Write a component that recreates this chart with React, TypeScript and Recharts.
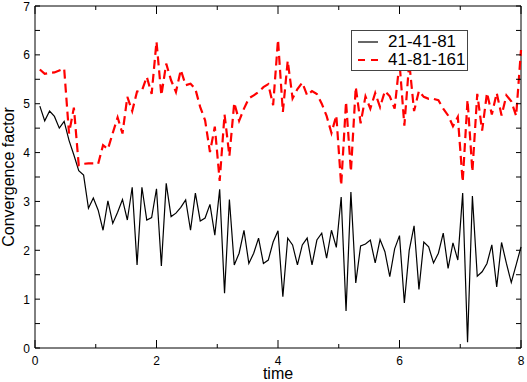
import React from 'react';
import { LineChart, Line, XAxis, YAxis, Legend, ReferenceArea } from 'recharts';

// sample spacing along the time axis
const TIME_STEP = 0.08;

const coarseValues = [
  4.95, 4.65, 4.85, 4.74, 4.5, 4.64, 4.25, 3.95, 3.63, 3.54,
  2.86, 3.07, 2.82, 2.41, 3.01, 2.55, 2.78, 3.04, 2.62, 3.29,
  1.7, 3.29, 2.62, 2.67, 3.26, 1.68, 3.37, 2.69, 2.76, 2.88,
  3.03, 2.41, 3.17, 2.6, 2.66, 2.94, 2.31, 3.25, 1.12, 3.04,
  1.7, 1.94, 2.41, 1.73, 1.94, 2.25, 1.73, 1.8, 2.17, 2.4,
  1.05, 2.25, 2.11, 1.7, 2.11, 2.25, 1.7, 2.21, 2.35, 1.84,
  2.41, 2.06, 3.09, 0.76, 3.19, 1.33, 2.09, 2.13, 2.21, 1.74,
  2.22, 1.97, 1.46, 2.03, 2.3, 0.92, 2.0, 2.5, 1.2, 2.17,
  2.07, 1.74, 1.94, 2.35, 1.63, 2.15, 1.8, 3.17, 0.12, 3.11,
  1.47, 1.56, 1.73, 2.11, 1.25, 2.16, 1.73, 1.34, 1.7, 2.07,
];

const fineValues = [
  5.7, 5.61, 5.63, 5.64, 5.68, 5.72, 4.39, 4.92, 3.74, 3.77,
  3.78, 3.78, 3.77, 4.15, 4.07, 4.4, 4.72, 4.39, 5.14, 4.85,
  5.25, 5.27, 5.55, 5.2, 6.27, 5.17, 5.82, 5.48, 5.24, 5.69,
  5.38, 5.41, 5.3, 4.93, 4.66, 4.01, 4.53, 3.42, 4.78, 3.93,
  5.02, 4.65, 4.9, 5.11, 5.17, 5.24, 5.34, 5.4, 4.97, 6.31,
  4.83, 5.88, 5.11, 5.3, 5.43, 5.17, 5.26, 5.2, 5.0, 4.75,
  4.4, 4.76, 3.33, 5.04, 3.61, 5.34, 4.6, 5.15, 4.9, 5.22,
  4.93, 5.26, 5.15, 4.9, 5.85, 4.55, 5.85, 4.85, 5.26, 5.14,
  5.1, 5.1, 5.07, 4.9, 4.76, 4.54, 4.73, 3.4, 5.08, 3.61,
  5.2, 4.45, 5.22, 4.78, 5.22, 4.76, 5.17, 5.05, 4.75, 6.1,
];

const xTicks = [0, 1, 2, 3, 4, 5, 6, 7, 8];
const yTicks = [0, 0.5, 1, 1.5, 2, 2.5, 3, 3.5, 4, 4.5, 5, 5.5, 6, 6.5, 7];

const FONT = '"Liberation Sans", Arial, Helvetica, sans-serif';
const INK = '#000000';

// layout
const WIDTH = 527;
const HEIGHT = 382;
const MARGIN = { top: 6, right: 6, bottom: 0, left: 0 };
const Y_AXIS_W = 35;
const X_AXIS_H = 34;
const PLOT_LEFT = MARGIN.left + Y_AXIS_W;
const PLOT_TOP = MARGIN.top;
const PLOT_W = WIDTH - MARGIN.left - MARGIN.right - Y_AXIS_W;
const PLOT_H = HEIGHT - MARGIN.top - MARGIN.bottom - X_AXIS_H;
const PLOT_BOTTOM = PLOT_TOP + PLOT_H;
const PLOT_RIGHT = PLOT_LEFT + PLOT_W;

const data = coarseValues.map((v, i) => ({
  time: Number(((i + 1) * TIME_STEP).toFixed(2)),
  coarse: v,
  fine: fineValues[i],
}));

// inward ticks on bottom and top edges, label under the bottom one
const BottomTick = (props: any) => {
  const { x, payload } = props;
  const major = payload.value % 2 === 0;
  const len = major ? 8 : 4;
  return (
    <g>
      <rect x={x - 0.5} y={PLOT_BOTTOM - len} width={1} height={len} fill={INK} />
      <rect x={x - 0.5} y={PLOT_TOP} width={1} height={len} fill={INK} />
      {major && (
        <text x={x} y={PLOT_BOTTOM + 17} textAnchor="middle" fontSize={12} fontFamily={FONT} fill={INK}>
          {payload.value}
        </text>
      )}
    </g>
  );
};

// inward ticks on left and right edges, label left of the axis
const LeftTick = (props: any) => {
  const { y, payload } = props;
  const major = Number.isInteger(payload.value);
  return (
    <g>
      <rect x={PLOT_LEFT} y={y - 0.5} width={5} height={1} fill={INK} />
      <rect x={PLOT_RIGHT - 5} y={y - 0.5} width={5} height={1} fill={INK} />
      {major && (
        <text x={PLOT_LEFT - 5} y={y + 4.5} textAnchor="end" fontSize={12} fontFamily={FONT} fill={INK}>
          {payload.value}
        </text>
      )}
    </g>
  );
};

const XTitle = ({ viewBox }: any) => (
  <text
    x={viewBox.x + viewBox.width / 2}
    y={HEIGHT - 3}
    textAnchor="middle"
    fontSize={16}
    fontFamily={FONT}
    fill={INK}
  >
    time
  </text>
);

const YTitle = ({ viewBox }: any) => {
  const cx = 14;
  const cy = viewBox.y + viewBox.height / 2;
  return (
    <text
      x={cx}
      y={cy}
      transform={`rotate(-90 ${cx} ${cy})`}
      textAnchor="middle"
      fontSize={16}
      fontFamily={FONT}
      fill={INK}
    >
      Convergence factor
    </text>
  );
};

const LegendBox = ({ payload }: any) => (
  <div
    style={{
      border: '1px solid #444',
      background: '#fff',
      width: 115,
      height: 37,
      paddingTop: 2,
      boxSizing: 'content-box',
      fontFamily: FONT,
      fontSize: 17,
      lineHeight: '18px',
    }}
  >
    {(payload || []).map((entry: any) => (
      <div key={entry.value} style={{ display: 'flex', alignItems: 'center', height: 18 }}>
        <svg width={34} height={10} style={{ marginLeft: 2 }}>
          <line
            x1={4}
            x2={24}
            y1={5}
            y2={5}
            stroke={entry.color}
            strokeWidth={entry.payload?.strokeWidth ?? 1}
            strokeDasharray={entry.payload?.strokeDasharray ? '7 6' : undefined}
          />
        </svg>
        <span style={{ color: INK }}>{entry.value}</span>
      </div>
    ))}
  </div>
);

export default function App() {
  return (
    <div style={{ position: 'absolute', left: 0, top: 0 }}>
      <LineChart width={WIDTH} height={HEIGHT} data={data} margin={MARGIN}>
        <XAxis
          dataKey="time"
          type="number"
          domain={[0, 8]}
          ticks={xTicks}
          interval={0}
          height={X_AXIS_H}
          tickSize={0}
          tickLine={false}
          axisLine={false}
          tick={<BottomTick />}
          label={<XTitle />}
        />
        <YAxis
          type="number"
          domain={[0, 7]}
          ticks={yTicks}
          interval={0}
          width={Y_AXIS_W}
          tickSize={0}
          tickLine={false}
          axisLine={false}
          tick={<LeftTick />}
          label={<YTitle />}
        />
        <ReferenceArea
          x1={0}
          x2={8}
          y1={0}
          y2={7}
          fill="none"
          fillOpacity={0}
          stroke={INK}
          strokeWidth={1}
          ifOverflow="visible"
        />
        <Line
          dataKey="coarse"
          name="21-41-81"
          type="linear"
          stroke="#000000"
          strokeWidth={1.2}
          dot={false}
          isAnimationActive={false}
        />
        <Line
          dataKey="fine"
          name="41-81-161"
          type="linear"
          stroke="#ff0000"
          strokeWidth={2.2}
          strokeDasharray="9 5"
          dot={false}
          isAnimationActive={false}
        />
        <Legend
          layout="horizontal"
          verticalAlign="middle"
          align="center"
          content={<LegendBox />}
          wrapperStyle={{ left: 351, top: 30, width: 117, height: 41 }}
        />
      </LineChart>
    </div>
  );
}
